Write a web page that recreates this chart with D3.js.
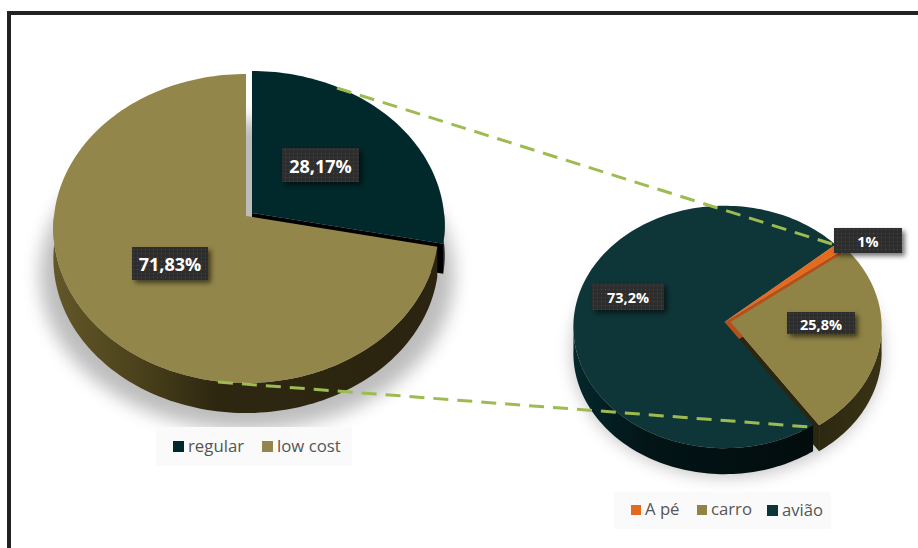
<!DOCTYPE html>
<html>
<head>
<meta charset="utf-8">
<script src="https://cdn.jsdelivr.net/npm/d3@7"></script>
<style>
  html, body { margin: 0; padding: 0; background: #fff; }
  svg { display: block; }
  text { font-family: "Open Sans", sans-serif; }
</style>
</head>
<body>
<svg id="chart" width="918" height="548"></svg>
<script>
// Ticket type shares
const ticketCategories = ["regular", "low cost"];
const ticketValues = [28.17, 71.83];
const ticketLabels = ["28,17%", "71,83%"];

// Transport mode shares
const transportCategories = ["A pé", "carro", "avião"];
const transportValues = [1, 25.8, 73.2];
const transportLabels = ["1%", "25,8%", "73,2%"];

const svg = d3.select("#chart");
const defs = svg.append("defs");

// Soft shadow under each pie
defs.append("filter").attr("id", "softShadow")
  .attr("x", "-20%").attr("y", "-20%").attr("width", "140%").attr("height", "140%")
  .append("feGaussianBlur").attr("stdDeviation", 9);

// Drop shadow for the value boxes
const boxShadow = defs.append("filter").attr("id", "boxShadow")
  .attr("x", "-20%").attr("y", "-30%").attr("width", "150%").attr("height", "170%");
boxShadow.append("feDropShadow")
  .attr("dx", 3).attr("dy", 3).attr("stdDeviation", 2.5)
  .attr("flood-color", "#000").attr("flood-opacity", 0.55);

// Dotted fill of the value boxes
const dots = defs.append("pattern").attr("id", "dots")
  .attr("width", 4).attr("height", 4).attr("patternUnits", "userSpaceOnUse");
dots.append("rect").attr("width", 4).attr("height", 4).attr("fill", "#2e2e2e");
dots.append("rect").attr("x", 1).attr("y", 1).attr("width", 1).attr("height", 1).attr("fill", "#4c4c4c");

function wallGradient(id, x0, x1, stops) {
  const g = defs.append("linearGradient").attr("id", id)
    .attr("gradientUnits", "userSpaceOnUse")
    .attr("x1", x0).attr("x2", x1).attr("y1", 0).attr("y2", 0);
  stops.forEach(([o, c]) => g.append("stop").attr("offset", o).attr("stop-color", c));
  return `url(#${id})`;
}

const toDeg = Math.PI / 180;
const lineGen = d3.line();

// Tilted pie with a slight perspective: angle on the disc -> screen position.
function makeProjector(g) {
  return (a, ox = 0, oy = 0, dz = 0) => {
    const u = Math.sin(a), v = -Math.cos(a);
    const s = 1 / (1 - g.persp * v);
    return [g.cx + ox + g.rx * u * s, g.cy + oy + g.ry * v * s + dz];
  };
}

function samples(a0, a1) {
  const n = Math.max(2, Math.ceil(Math.abs(a1 - a0) / (1.5 * toDeg)));
  return d3.range(n + 1).map(i => a0 + (a1 - a0) * i / n);
}

// Painting runs through a list of steps, back to front, so that a slice's
// walls can sit under a neighbouring slice's top face.
function drawPie(g, values, style) {
  const layer = svg.append("g");
  const project = makeProjector(g);
  const arcs = d3.pie().sort(null)
    .startAngle(g.start * toDeg).endAngle(g.start * toDeg + 2 * Math.PI)(values);

  layer.append("ellipse")
    .attr("cx", g.shadow.cx).attr("cy", g.shadow.cy)
    .attr("rx", g.shadow.rx).attr("ry", g.shadow.ry)
    .attr("fill", "#000").attr("opacity", 0.26)
    .attr("filter", "url(#softShadow)");

  const paintWalls = i => {
    const d = arcs[i], st = style.slices[i];
    const [ox, oy] = st.offset;
    const apex = [g.cx + ox, g.cy + oy];
    if (st.endWall) {
      const e = project(d.endAngle, ox, oy);
      layer.append("path")
        .attr("d", lineGen([apex, e, [e[0], e[1] + g.depth], [apex[0], apex[1] + g.depth]]) + "Z")
        .attr("fill", st.endWall);
    }
    const front = samples(d.startAngle, d.endAngle).filter(a => Math.cos(a) <= 0.02);
    if (front.length > 1) {
      const top = front.map(a => project(a, ox, oy));
      const bottom = front.slice().reverse().map(a => project(a, ox, oy, g.depth));
      layer.append("path").attr("d", lineGen(top.concat(bottom)) + "Z").attr("fill", st.wall);
    }
  };

  const paintTop = i => {
    const d = arcs[i], st = style.slices[i];
    const [ox, oy] = st.offset;
    const rim = samples(d.startAngle, d.endAngle).map(a => project(a, ox, oy));
    layer.append("path")
      .attr("d", lineGen([[g.cx + ox, g.cy + oy]].concat(rim)) + "Z")
      .attr("fill", st.color);
  };

  style.steps.forEach(([kind, i]) => (kind === "wall" ? paintWalls : paintTop)(i));
}

function drawConnector(x1, y1, x2, y2) {
  svg.append("line")
    .attr("x1", x1).attr("y1", y1).attr("x2", x2).attr("y2", y2)
    .attr("stroke", "#9dbb50").attr("stroke-width", 3)
    .attr("stroke-dasharray", "15 9");
}

function drawValueBox(text, x, y, w, h, size) {
  const b = svg.append("g");
  b.append("rect").attr("x", x).attr("y", y).attr("width", w).attr("height", h)
    .attr("fill", "url(#dots)").attr("filter", "url(#boxShadow)");
  b.append("text").attr("x", x + w / 2).attr("y", y + h / 2 + 1.5)
    .attr("dy", "0.36em").attr("text-anchor", "middle")
    .attr("font-size", size).attr("font-weight", 700).attr("fill", "#fff")
    .text(text);
}

function drawLegend(box, items, size) {
  const l = svg.append("g");
  l.append("rect").attr("x", box.x).attr("y", box.y).attr("width", box.w).attr("height", box.h)
    .attr("fill", "#fafafa");
  items.forEach(it => {
    l.append("rect").attr("x", it.x).attr("y", it.y).attr("width", it.s).attr("height", it.s)
      .attr("fill", it.color);
    l.append("text").attr("x", it.x + it.s + 4).attr("y", it.y + it.s - 0.5)
      .attr("font-size", size).attr("fill", "#555").text(it.label);
  });
}

// Frame: only the top and left rules are inside the page
svg.append("path")
  .attr("d", lineGen([[9, 548], [9, 13], [918, 13]]))
  .attr("fill", "none").attr("stroke", "#222").attr("stroke-width", 4);

const oliveWall = wallGradient("oliveWall", 55, 440,
  [[0, "#625729"], [0.2, "#4d431c"], [0.42, "#2e2710"], [1, "#2a2410"]]);
const tealWall = wallGradient("tealWall", 575, 810,
  [[0, "#04272b"], [0.3, "#031517"], [1, "#020c0d"]]);
const carroWall = wallGradient("carroWall", 810, 885,
  [[0, "#2b2610"], [1, "#3a3315"]]);

drawPie(
  { cx: 246, cy: 216, rx: 192, ry: 153.5, persp: 0.081, depth: 30, start: 0,
    shadow: { cx: 247, cy: 275, rx: 207, ry: 155 } },
  ticketValues,
  { steps: [["wall", 0], ["top", 0], ["wall", 1], ["top", 1]],
    slices: [
      { color: "#01282a", wall: "#000", endWall: "#000", offset: [6, -3] },
      { color: "#93864a", wall: oliveWall, offset: [0, 0] }
    ] }
);

drawPie(
  { cx: 724.5, cy: 322, rx: 151, ry: 121, persp: 0.041, depth: 26, start: 49,
    shadow: { cx: 727, cy: 352, rx: 154, ry: 124 } },
  transportValues,
  { steps: [["wall", 1], ["wall", 0], ["wall", 2], ["top", 2], ["top", 0], ["top", 1]],
    slices: [
      { color: "#e46a1e", wall: "#b5501a", endWall: "#b5501a", offset: [0, 0] },
      { color: "#8f8345", wall: carroWall, endWall: "#2b2610", offset: [6, 0] },
      { color: "#0e3538", wall: tealWall, offset: [0, 0] }
    ] }
);

drawConnector(337, 88, 835, 245);
drawConnector(218, 382, 810, 427);

drawValueBox(ticketLabels[0], 282, 148, 77, 34, 18);
drawValueBox(ticketLabels[1], 132, 247, 76, 33, 18);
drawValueBox(transportLabels[2], 592, 283, 72, 27, 14.5);
drawValueBox(transportLabels[1], 787, 312, 68, 22, 14.5);
drawValueBox(transportLabels[0], 834, 228, 68, 25, 14.5);

drawLegend({ x: 156, y: 427, w: 196, h: 39 }, [
  { label: ticketCategories[0], color: "#01282a", x: 173, y: 441, s: 11 },
  { label: ticketCategories[1], color: "#93864a", x: 262, y: 441, s: 11 }
], 16.8);

drawLegend({ x: 614, y: 492, w: 217, h: 37 }, [
  { label: transportCategories[0], color: "#e46a1e", x: 631, y: 505, s: 10 },
  { label: transportCategories[1], color: "#8f8345", x: 697, y: 505, s: 10 },
  { label: transportCategories[2], color: "#0e3538", x: 767, y: 505, s: 11 }
], 16.7);
</script>
</body>
</html>
